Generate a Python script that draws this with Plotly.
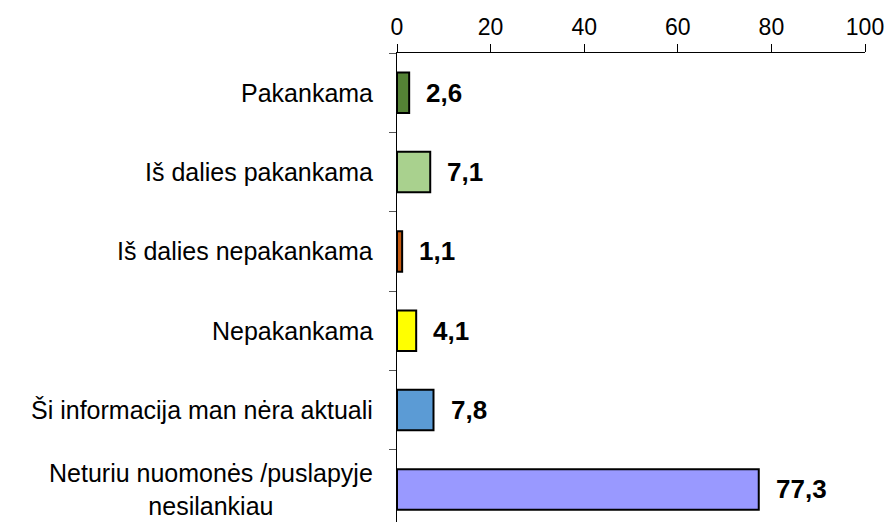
import plotly.graph_objects as go

categories = [
    "Pakankama",
    "Iš dalies pakankama",
    "Iš dalies nepakankama",
    "Nepakankama",
    "Ši informacija man nėra aktuali",
    "Neturiu nuomonės /puslapyje<br>nesilankiau",
]
values = [2.6, 7.1, 1.1, 4.1, 7.8, 77.3]
value_labels = ["2,6", "7,1", "1,1", "4,1", "7,8", "77,3"]
colors = ["#548235", "#a9d18e", "#c55a11", "#ffff00", "#5b9bd5", "#9999ff"]
x_ticks = [0, 20, 40, 60, 80, 100]

fig = go.Figure()
fig.add_trace(go.Bar(
    x=values,
    y=categories,
    orientation="h",
    width=0.51,
    marker=dict(color=colors, line=dict(color="#000000", width=2)),
    hoverinfo="skip",
))

for cat, v, lab in zip(categories, values, value_labels):
    fig.add_annotation(
        x=v, y=cat, xref="x", yref="y", text="<b>" + lab + "</b>",
        showarrow=False, xanchor="left", yanchor="middle", xshift=15,
        font=dict(family="Liberation Sans, Arial", size=26, color="#000000"),
    )
    fig.add_annotation(
        x=0, y=cat, xref="paper", yref="y", text=cat,
        showarrow=False, xanchor="right", yanchor="middle", xshift=-22,
        align="center",
        font=dict(family="Liberation Sans, Arial", size=25, color="#000000"),
    )

fig.update_layout(
    width=885,
    height=514,
    margin=dict(l=389, r=28, t=45, b=0),
    paper_bgcolor="white",
    plot_bgcolor="white",
    showlegend=False,
    font=dict(family="Liberation Sans, Arial", size=23, color="#000000"),
    xaxis=dict(
        side="top",
        range=[0, 100],
        tickvals=x_ticks,
        ticktext=[str(t) for t in x_ticks],
        ticks="outside",
        ticklen=8,
        tickcolor="#000000",
        showline=True,
        linecolor="#000000",
        linewidth=1,
        showgrid=False,
        zeroline=False,
        tickfont=dict(size=23),
        automargin=False,
        ticklabeloverflow="allow",
    ),
    yaxis=dict(
        range=[5.41, -0.5],
        showticklabels=False,
        ticks="outside",
        tickson="boundaries",
        ticklen=7,
        tickcolor="#555555",
        showline=True,
        linecolor="#000000",
        linewidth=1,
        showgrid=False,
        zeroline=False,
        automargin=False,
    ),
)

fig.write_html("out.html")
